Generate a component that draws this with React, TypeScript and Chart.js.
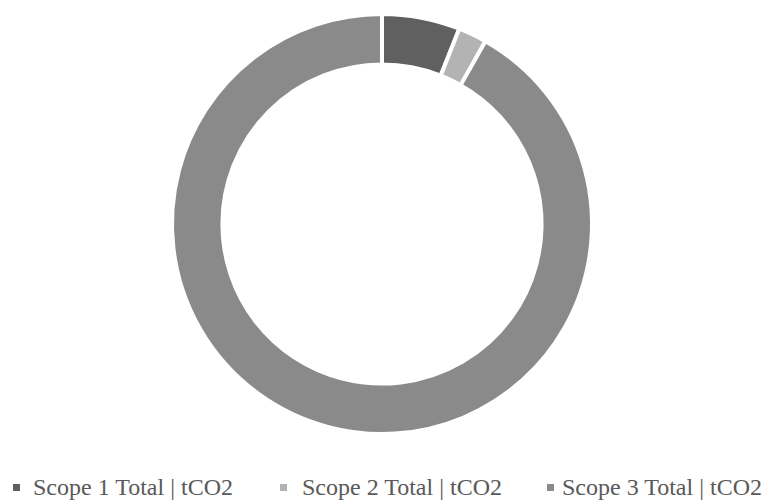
import React, { useEffect, useRef } from "react";
import { Chart, registerables } from "chart.js";

Chart.register(...registerables);

const categories = ["Scope 1 Total | tCO2", "Scope 2 Total | tCO2", "Scope 3 Total | tCO2"];
const values = [6.0, 2.2, 91.8];
const colors = ["#606060", "#b3b3b3", "#8a8a8a"];

const markerGaps = [13, 15, 8];

export default function App() {
  const ref = useRef<HTMLCanvasElement | null>(null);
  useEffect(() => {
    document.body.style.margin = "0";
    const chart = new Chart(ref.current!, {
      type: "doughnut",
      data: {
        labels: categories,
        datasets: [
          {
            data: values,
            backgroundColor: colors,
            borderColor: "#ffffff",
            borderWidth: 4,
          },
        ],
      },
      options: {
        animation: false,
        responsive: false,
        maintainAspectRatio: false,
        cutout: "76%",
        layout: { padding: { top: 12, bottom: 12, left: 0, right: 0 } },
        plugins: {
          tooltip: { enabled: false },
          legend: { display: false },
        },
      },
    });
    return () => chart.destroy();
  }, []);
  return (
    <div style={{ width: 764, height: 501, position: "relative", overflow: "hidden" }}>
      <canvas ref={ref} width={764} height={448} style={{ display: "block", position: "absolute", left: 0, top: 0 }} />
      <div
        style={{
          position: "absolute",
          left: 13,
          top: 475,
          display: "flex",
          fontFamily: "'Liberation Serif', 'Times New Roman', serif",
          fontSize: 24,
          lineHeight: "24px",
          color: "#595959",
          whiteSpace: "nowrap",
        }}
      >
        {categories.map((c, i) => (
          <div key={c} style={{ width: 267, display: "flex", alignItems: "flex-start" }}>
            <span
              style={{
                display: "inline-block",
                width: 7,
                height: 7,
                marginTop: 9,
                marginRight: markerGaps[i],
                background: colors[i],
              }}
            />
            <span>{c}</span>
          </div>
        ))}
      </div>
    </div>
  );
}
